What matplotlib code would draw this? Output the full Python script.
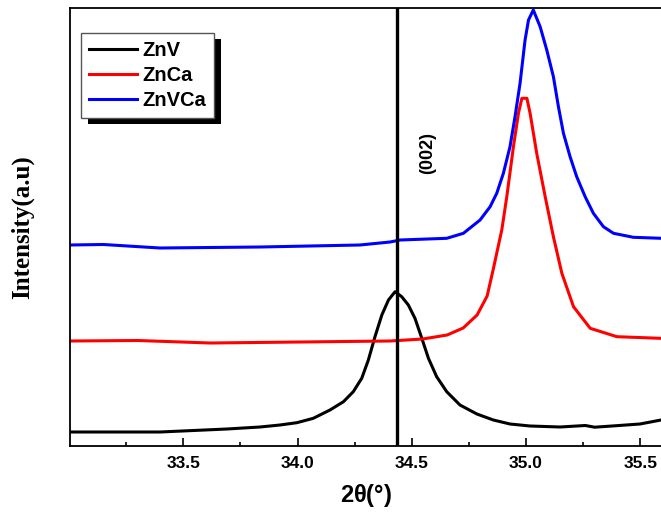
import matplotlib
matplotlib.use("Agg")
import matplotlib.pyplot as plt
from matplotlib.patches import Rectangle
from matplotlib.ticker import MultipleLocator

# 2-theta (deg) and intensity (a.u., offset stacked) around the (002) reflection
znv_2theta = [33.004, 33.398, 33.691, 33.836, 33.923, 33.997, 34.069, 34.142,
              34.201, 34.244, 34.281, 34.310, 34.339, 34.369, 34.398, 34.427,
              34.456, 34.485, 34.514, 34.544, 34.573, 34.609, 34.653, 34.711,
              34.785, 34.857, 34.930, 35.018, 35.149, 35.260, 35.300, 35.377,
              35.499, 35.591]
znv_int = [140, 140, 170, 190, 210, 233, 277, 360,
           443, 543, 677, 860, 1093, 1310, 1460, 1543,
           1493, 1410, 1277, 1077, 877, 693, 543, 410,
           320, 260, 220, 200, 190, 205, 188, 200,
           220, 260]

znca_2theta = [33.004, 33.300, 33.617, 34.011, 34.405, 34.548, 34.655, 34.725,
               34.786, 34.830, 34.856, 34.894, 34.916, 34.945, 34.967, 34.982,
               35.004, 35.018, 35.047, 35.084, 35.120, 35.157, 35.208, 35.281,
               35.398, 35.587]
znca_int = [1050, 1055, 1030, 1040, 1050, 1070, 1110, 1180,
            1310, 1500, 1760, 2160, 2493, 2993, 3327, 3477,
            3477, 3327, 2927, 2493, 2093, 1727, 1393, 1177,
            1093, 1077]

znvca_2theta = [33.004, 33.150, 33.398, 33.836, 34.273, 34.405, 34.449, 34.653,
                34.726, 34.799, 34.843, 34.872, 34.901, 34.930, 34.952, 34.974,
                34.996, 35.011, 35.032, 35.062, 35.091, 35.120, 35.142, 35.164,
                35.193, 35.222, 35.259, 35.295, 35.339, 35.383, 35.470, 35.592]
znvca_int = [2010, 2015, 1980, 1990, 2010, 2040, 2060, 2077,
             2127, 2260, 2393, 2527, 2727, 2993, 3293, 3627,
             4060, 4260, 4360, 4193, 3960, 3693, 3393, 3127,
             2893, 2693, 2493, 2327, 2193, 2127, 2087, 2077]

peak_pos = 34.434
labels = ["ZnV", "ZnCa", "ZnVCa"]
colors = ["black", "red", "blue"]

fig = plt.figure(figsize=(6.61, 5.15), dpi=100)
ax = fig.add_axes([70 / 661, 69 / 515, 1 - 70 / 661, 438 / 515])

series = [(znv_2theta, znv_int), (znca_2theta, znca_int), (znvca_2theta, znvca_int)]
for (x, y), lab, c in zip(series, labels, colors):
    ax.plot(x, y, color=c, lw=2.2, label=lab, solid_joinstyle="round")

ax.axvline(peak_pos, color="black", lw=2.4)
ax.text(34.571, 2930, "(002)", rotation=90, ha="center", va="center",
        fontsize=13, fontweight="bold", family="Liberation Sans")

ax.set_xlim(33.004, 35.591)
ax.set_ylim(0, 4380)
ax.xaxis.set_major_locator(MultipleLocator(0.5))
ax.xaxis.set_minor_locator(MultipleLocator(0.25))
ax.tick_params(axis="x", which="major", direction="in", length=5.8, width=1.2,
               labelsize=12.5, pad=7)
ax.tick_params(axis="x", which="minor", direction="in", length=3, width=1.2)
ax.set_yticks([])
for lbl in ax.get_xticklabels():
    lbl.set_fontweight("bold")
    lbl.set_family("Liberation Sans")
for s in ax.spines.values():
    s.set_linewidth(1.3)
ax.spines["right"].set_visible(False)

ax.set_xlabel(r"2$\mathregular{\theta}$(°)", fontsize=17, fontweight="bold",
              family="Liberation Sans", labelpad=8)
ax.set_ylabel("Intensity(a.u)", fontsize=18, fontweight="bold",
              family="Liberation Serif", labelpad=26)

leg = ax.legend(loc="upper left", bbox_to_anchor=(11 / 591, 1 - 25 / 438),
                borderaxespad=0, fancybox=False, framealpha=1, edgecolor="#555555",
                handlelength=2.4, handletextpad=0.25, labelspacing=0.3,
                borderpad=0.4, prop={"family": "Liberation Sans", "weight": "bold", "size": 14.5})
leg.get_frame().set_linewidth(1.0)
leg.set_zorder(6)

# solid black drop shadow behind the legend box
fig.canvas.draw()
bb = leg.get_window_extent().transformed(ax.transAxes.inverted())
dx, dy = 7 / 591, 6 / 438
ax.add_patch(Rectangle((bb.x0 + dx, bb.y0 - dy), bb.width, bb.height,
                       transform=ax.transAxes, facecolor="black", edgecolor="none",
                       zorder=5.5, clip_on=False))

fig.savefig("out.png", dpi=100)
